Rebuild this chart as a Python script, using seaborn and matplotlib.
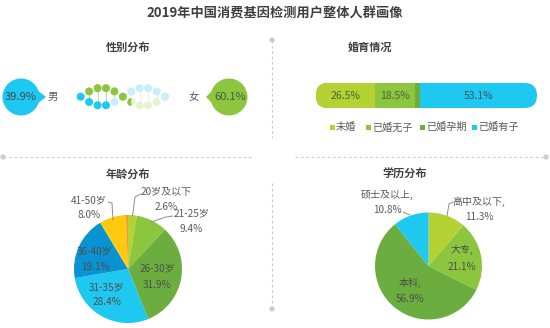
import numpy as np
import matplotlib
matplotlib.use("Agg")
import matplotlib.pyplot as plt
import seaborn as sns
from matplotlib.patches import Circle, Polygon, Wedge, FancyBboxPatch

# ---- data ----
title = "2019年中国消费基因检测用户整体人群画像"

gender_labels = ["男", "女"]
gender_values = [39.9, 60.1]

marriage_labels = ["未婚", "已婚无子", "已婚孕期", "已婚有子"]
marriage_values = [26.5, 18.5, 1.9, 53.1]

age_labels = ["20岁及以下", "21-25岁", "26-30岁", "31-35岁", "36-40岁", "41-50岁", "50岁以上"]
age_values = [2.6, 9.4, 31.9, 28.4, 19.1, 8.0, 0.6]

edu_labels = ["高中及以下", "大专", "本科", "硕士及以上"]
edu_values = [11.3, 21.1, 56.9, 10.8]

# ---- style ----
sns.set_theme(style="white")
plt.rcParams["font.family"] = ["Noto Sans CJK SC", "DejaVu Sans"]

YG = "#b4d234"
GR = "#8cc63f"
DG = "#6bae3f"
CY = "#1ec8f0"
DB = "#0a93d2"
YE = "#ffc910"
OR = "#f39a1e"
TXT = "#595959"
HEAD = "#404040"
DIV = "#cccccc"

marriage_colors = [YG, GR, DG, CY]
age_colors = [YG, GR, DG, CY, DB, YE, OR]
edu_colors = [YG, GR, DG, CY]

W, H = 550, 328
fig = plt.figure(figsize=(W / 100, H / 100), dpi=100)


def pixel_axes(zorder):
    ax = fig.add_axes([0, 0, 1, 1], zorder=zorder)
    ax.set_xlim(0, W)
    ax.set_ylim(H, 0)
    ax.axis("off")
    ax.patch.set_alpha(0)
    return ax


bg = pixel_axes(0)

# ---- dashed dividers ----
dash = dict(color=DIV, lw=0.8, ls=(0, (2.6, 2.2)))
bg.plot([3, 254], [157, 157], **dash)
bg.plot([295, 546], [157, 157], **dash)
bg.plot([272, 272], [40, 138], **dash)
bg.plot([272, 272], [183, 309], **dash)
for cx, cy in [(3, 157), (546, 157), (272, 40), (272, 309)]:
    bg.add_patch(Circle((cx, cy), 2.6, color=DIV, lw=0))

# ---- gender bubbles ----
bg.add_patch(Circle((21, 97), 18.5, color=CY, lw=0))
bg.add_patch(Polygon([(37, 90), (46, 97), (37, 104)], closed=True, color=CY, lw=0))
bg.add_patch(Circle((229, 97), 18.5, color=GR, lw=0))
bg.add_patch(Polygon([(213, 90), (206, 97), (213, 104)], closed=True, color=GR, lw=0))

# ---- DNA helix ornament ----
n = 11
hx = 80.7 + 8.43 * np.arange(n)
ph = np.arange(n) * np.pi / 5
y_g = 96.7 - 9 * np.sin(ph)
y_b = 96.7 + 9 * np.sin(ph)
LCY = "#c9eefb"
LGR = "#e6f2d2"
r = 4.0
for i in range(1, n - 1):
    if i == 5:
        continue
    col = "#bfe09a" if i < 5 else "#e9f3dc"
    bg.plot([hx[i], hx[i]], [y_g[i], y_b[i]], color=col, lw=0.8, zorder=1)
for i in range(7, n):
    bg.add_patch(Circle((hx[i], y_g[i]), r, color=LGR, lw=0, zorder=2))
for i in range(4, n):
    bg.add_patch(Circle((hx[i], y_b[i]), r, color=LCY, lw=0, zorder=2))
bg.add_patch(Circle((hx[6], y_g[6]), r, color=LGR, lw=0, zorder=2))
bg.add_patch(Wedge((hx[6], y_g[6]), r, 90, 270, color=GR, lw=0, zorder=3))
for i in range(0, 4):
    bg.add_patch(Circle((hx[i], y_b[i]), r, color=CY, lw=0, zorder=3))
for i in range(1, 6):
    bg.add_patch(Circle((hx[i], y_g[i]), r, color=GR, lw=0, zorder=3))

# ---- marriage stacked bar ----
bx0, bx1, by0, by1 = 316, 537, 83, 108
axb = fig.add_axes([bx0 / W, 1 - by1 / H, (bx1 - bx0) / W, (by1 - by0) / H], zorder=1)
cum = np.cumsum(marriage_values)
for i in range(len(marriage_values) - 1, -1, -1):
    sns.barplot(x=[cum[i]], y=[0], orient="h", color=marriage_colors[i],
                width=1.0, saturation=1, ax=axb, linewidth=0)
axb.set_xlim(0, cum[-1])
axb.set_ylim(0.5, -0.5)
axb.axis("off")
clip = FancyBboxPatch((bx0, by0), bx1 - bx0, by1 - by0,
                      boxstyle="round,pad=0,rounding_size=12.5",
                      transform=bg.transData, facecolor="none", edgecolor="none")
bg.add_patch(clip)
for p in axb.patches:
    p.set_clip_path(clip)


def pie_axes(cx, cy, rad):
    return fig.add_axes([(cx - rad) / W, 1 - (cy + rad) / H, 2 * rad / W, 2 * rad / H], zorder=1)


# ---- age pie ----
axa = pie_axes(128, 269, 54)
axa.pie(age_values, colors=age_colors, startangle=90, counterclock=False,
        radius=1, wedgeprops=dict(linewidth=0))
axa.set_xlim(-1, 1)
axa.set_ylim(-1, 1)
axa.axis("off")

# ---- education pie ----
axe = pie_axes(428.5, 266, 53.5)
axe.pie(edu_values, colors=edu_colors, startangle=90, counterclock=False,
        radius=1, wedgeprops=dict(linewidth=0))
axe.set_xlim(-1, 1)
axe.set_ylim(-1, 1)
axe.axis("off")

# ---- text layer ----
top = pixel_axes(5)
top.text(275, 14, title, ha="center", va="center", fontsize=9.5, fontweight="bold", color=HEAD)
for x, y, s in [(128, 47, "性别分布"), (370, 47, "婚育情况"),
                (128, 174, "年龄分布"), (405, 174, "学历分布")]:
    top.text(x, y, s, ha="center", va="center", fontsize=8, fontweight="bold", color=HEAD)

top.text(20.5, 97.5, f"{gender_values[0]}%", ha="center", va="center", fontsize=8, color="#3f4a50")
top.text(53, 97, gender_labels[0], ha="center", va="center", fontsize=7.5, color=TXT)
top.text(230, 97.5, f"{gender_values[1]}%", ha="center", va="center", fontsize=8, color="#4a5a3a")
top.text(194, 97, gender_labels[1], ha="center", va="center", fontsize=7.5, color=TXT)

starts = np.concatenate([[0], cum[:-1]])
for i, (s, v) in enumerate(zip(starts, marriage_values)):
    if v < 5:
        continue
    axb.text(s + v / 2, 0.02, f"{v}%", ha="center", va="center", fontsize=7.5,
             color="#55603f" if i < 2 else "#3f5560", zorder=5)

for sx, lab, col in zip([332, 368, 422, 474], marriage_labels, marriage_colors):
    top.add_patch(plt.Rectangle((sx - 2.5, 124.5), 5, 5, color=col, lw=0))
    top.text(sx + 4, 127.3, lab, ha="left", va="center", fontsize=7.3, color=TXT)

fs = 7.2
lead = dict(color="#8c8c8c", lw=0.7)
age_pos = {0: (166, 192, 207), 1: (191, 213, 229), 2: (157, 268, 285),
           3: (107, 287, 302), 4: (95, 251, 267), 5: (89, 200, 215)}
for i, (tx, ty1, ty2) in age_pos.items():
    c = TXT if i in (0, 1, 5) else "#4d4d4d"
    top.text(tx, ty1, age_labels[i], ha="center", va="center", fontsize=fs, color=c)
    top.text(tx, ty2, f"{age_values[i]}%", ha="center", va="center", fontsize=fs, color=c)
top.plot([132.5, 135, 141], [216, 197, 194], **lead)
top.plot([151, 166, 173], [222, 217, 216], **lead)
top.plot([113, 112, 108], [220, 203, 202], **lead)

edu_pos = {0: (479, 202, 217), 1: (462, 250, 267), 2: (410, 283, 299), 3: (387, 195, 210)}
for i, (tx, ty1, ty2) in edu_pos.items():
    c = TXT if i in (0, 3) else "#4d4d4d"
    top.text(tx, ty1, edu_labels[i] + ",", ha="center", va="center", fontsize=fs, color=c)
    top.text(tx, ty2, f"{edu_values[i]}%", ha="center", va="center", fontsize=fs, color=c)
top.plot([447, 449, 453], [216, 204, 202], **lead)
top.plot([403, 410], [212, 215], **lead)

fig.savefig("out.png", dpi=100)
